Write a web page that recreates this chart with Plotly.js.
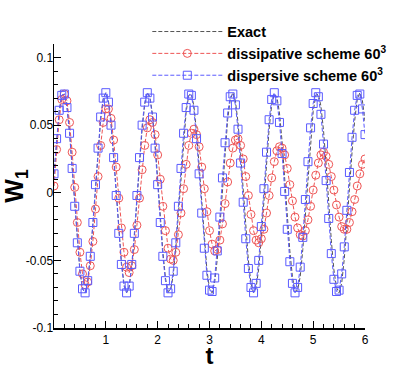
<!DOCTYPE html>
<html>
<head>
<meta charset="utf-8">
<script src="https://cdn.plot.ly/plotly-3.0.1.min.js"></script>
<style>
  html, body { margin: 0; padding: 0; background: #fff; }
  #chart { width: 415px; height: 369px; }
</style>
</head>
<body>
<div id="chart"></div>
<script>
// time samples (dt = 0.05)
const timeT = [
  0.00,0.05,0.10,0.15,0.20,0.25,0.30,0.35,0.40,0.45,
  0.50,0.55,0.60,0.65,0.70,0.75,0.80,0.85,0.90,0.95,
  1.00,1.05,1.10,1.15,1.20,1.25,1.30,1.35,1.40,1.45,
  1.50,1.55,1.60,1.65,1.70,1.75,1.80,1.85,1.90,1.95,
  2.00,2.05,2.10,2.15,2.20,2.25,2.30,2.35,2.40,2.45,
  2.50,2.55,2.60,2.65,2.70,2.75,2.80,2.85,2.90,2.95,
  3.00,3.05,3.10,3.15,3.20,3.25,3.30,3.35,3.40,3.45,
  3.50,3.55,3.60,3.65,3.70,3.75,3.80,3.85,3.90,3.95,
  4.00,4.05,4.10,4.15,4.20,4.25,4.30,4.35,4.40,4.45,
  4.50,4.55,4.60,4.65,4.70,4.75,4.80,4.85,4.90,4.95,
  5.00,5.05,5.10,5.15,5.20,5.25,5.30,5.35,5.40,5.45,
  5.50,5.55,5.60,5.65,5.70,5.75,5.80,5.85,5.90,5.95,
  6.00
];

const exactW1 = [
  0.014,0.040,0.060,0.072,0.073,0.064,0.045,0.019,-0.009,-0.036,
  -0.058,-0.071,-0.074,-0.066,-0.048,-0.024,0.004,0.032,0.054,0.069,
  0.074,0.068,0.052,0.028,0.001,-0.027,-0.051,-0.067,-0.074,-0.070,
  -0.055,-0.033,-0.006,0.023,0.047,0.065,0.074,0.071,0.058,0.037,
  0.010,-0.018,-0.043,-0.063,-0.073,-0.072,-0.061,-0.041,-0.015,0.013,
  0.039,0.060,0.072,0.073,0.064,0.045,0.020,-0.008,-0.035,-0.057,
  -0.071,-0.074,-0.066,-0.049,-0.025,0.003,0.031,0.054,0.069,0.074,
  0.068,0.052,0.029,0.001,-0.026,-0.050,-0.067,-0.074,-0.070,-0.056,
  -0.033,-0.006,0.022,0.047,0.065,0.073,0.071,0.059,0.038,0.011,
  -0.017,-0.043,-0.062,-0.073,-0.072,-0.062,-0.042,-0.016,0.012,0.039,
  0.060,0.072,0.073,0.064,0.046,0.021,-0.008,-0.035,-0.057,-0.070,
  -0.074,-0.067,-0.049,-0.025,0.003,0.030,0.053,0.069,0.074,0.068,
  0.053
];

const dissipativeW1 = [
  0.005,0.032,0.054,0.069,0.073,0.068,0.052,0.030,0.004,-0.022,
  -0.044,-0.060,-0.068,-0.066,-0.054,-0.036,-0.012,0.012,0.035,0.052,
  0.062,0.062,0.055,0.039,0.019,-0.004,-0.026,-0.044,-0.055,-0.059,
  -0.054,-0.042,-0.024,-0.004,0.017,0.035,0.048,0.054,0.052,0.043,
  0.028,0.010,-0.010,-0.028,-0.041,-0.049,-0.050,-0.044,-0.031,-0.015,
  0.003,0.021,0.035,0.044,0.047,0.043,0.034,0.019,0.003,-0.014,
  -0.028,-0.038,-0.043,-0.042,-0.035,-0.023,-0.008,0.008,0.022,0.033,
  0.039,0.040,0.035,0.025,0.012,-0.002,-0.016,-0.028,-0.035,-0.037,
  -0.034,-0.027,-0.015,-0.002,0.011,0.023,0.031,0.034,0.033,0.028,
  0.018,0.006,-0.006,-0.018,-0.026,-0.031,-0.032,-0.028,-0.020,-0.010,
  0.002,0.013,0.022,0.028,0.030,0.027,0.021,0.012,0.002,-0.009,
  -0.018,-0.025,-0.027,-0.027,-0.022,-0.014,-0.005,0.005,0.014,0.021,
  0.025
];

const dispersiveW1 = [
  0.014,0.040,0.061,0.072,0.073,0.063,0.044,0.018,-0.010,-0.037,
  -0.058,-0.071,-0.074,-0.065,-0.047,-0.022,0.006,0.033,0.056,0.070,
  0.074,0.067,0.050,0.026,-0.002,-0.030,-0.053,-0.069,-0.074,-0.069,
  -0.053,-0.030,-0.002,0.026,0.050,0.067,0.074,0.070,0.056,0.033,
  0.006,-0.022,-0.047,-0.065,-0.074,-0.071,-0.058,-0.037,-0.010,0.018,
  0.044,0.063,0.073,0.072,0.061,0.040,0.014,-0.015,-0.041,-0.061,
  -0.072,-0.073,-0.063,-0.043,-0.018,0.011,0.037,0.059,0.071,0.073,
  0.065,0.047,0.022,-0.007,-0.034,-0.056,-0.070,-0.074,-0.067,-0.050,
  -0.025,0.003,0.030,0.054,0.069,0.074,0.068,0.052,0.029,0.001,
  -0.027,-0.051,-0.067,-0.074,-0.070,-0.055,-0.033,-0.005,0.023,0.048,
  0.066,0.074,0.071,0.058,0.036,0.009,-0.019,-0.045,-0.064,-0.073,
  -0.072,-0.060,-0.040,-0.013,0.015,0.041,0.061,0.072,0.073,0.062,
  0.043
];

const xTickVals = [1, 2, 3, 4, 5, 6];
const yTickVals = [-0.1, -0.05, 0, 0.05, 0.1];
const yTickText = ["-0.1", "-0.05", "0", "0.05", "0.1"];

const seriesNames = [
  "Exact",
  "dissipative scheme 60<sup>3</sup>",
  "dispersive scheme 60<sup>3</sup>"
];

const FONT = "Liberation Sans, Arial, sans-serif";

const traces = [
  {
    x: timeT, y: exactW1, name: seriesNames[0],
    type: "scatter", mode: "lines",
    line: {color: "#555555", width: 1, dash: "4px,2px"}
  },
  {
    x: timeT, y: dissipativeW1, name: seriesNames[1],
    type: "scatter", mode: "lines+markers",
    line: {color: "#ee5555", width: 1, dash: "4px,2px"},
    marker: {symbol: "circle-open", size: 8, color: "#ee5555", line: {width: 1}}
  },
  {
    x: timeT, y: dispersiveW1, name: seriesNames[2],
    type: "scatter", mode: "lines+markers",
    line: {color: "#5a5aff", width: 1, dash: "4px,2px"},
    marker: {symbol: "square-open", size: 8, color: "#5a5aff", line: {width: 1}}
  }
];

const layout = {
  width: 415, height: 369,
  margin: {l: 54, r: 50, t: 44, b: 41},
  paper_bgcolor: "#fff", plot_bgcolor: "#fff",
  font: {family: FONT, size: 12, color: "#000"},
  showlegend: true,
  legend: {
    x: 0.3, y: 1.1, xanchor: "left", yanchor: "top",
    bgcolor: "rgba(0,0,0,0)", borderwidth: 0,
    font: {family: FONT, size: 14.5, color: "#000", weight: "bold"},
    tracegroupgap: 0, itemwidth: 70
  },
  xaxis: {
    range: [0, 6], showgrid: false, zeroline: false,
    showline: true, linecolor: "#000", linewidth: 1.5,
    ticks: "inside", ticklen: 7, tickcolor: "#000", tickwidth: 1,
    tickvals: xTickVals,
    minor: {dtick: 0.2, ticks: "inside", ticklen: 4, tickcolor: "#000"},
    tickfont: {family: FONT, size: 12},
    title: {text: "<b>t</b>", font: {family: FONT, size: 24}, standoff: 0}
  },
  yaxis: {
    range: [-0.1, 0.11], showgrid: false, zeroline: false,
    showline: true, linecolor: "#000", linewidth: 1.5,
    ticks: "inside", ticklen: 7, tickcolor: "#000", tickwidth: 1,
    tickvals: yTickVals, ticktext: yTickText, ticklabelstandoff: -3,
    minor: {dtick: 0.01, ticks: "inside", ticklen: 4, tickcolor: "#000"},
    tickfont: {family: FONT, size: 12},
    title: {text: "<b>W<sub>1</sub></b>", font: {family: FONT, size: 25}, standoff: 0}
  }
};

Plotly.newPlot("chart", traces, layout, {displayModeBar: false, staticPlot: true});
</script>
</body>
</html>
